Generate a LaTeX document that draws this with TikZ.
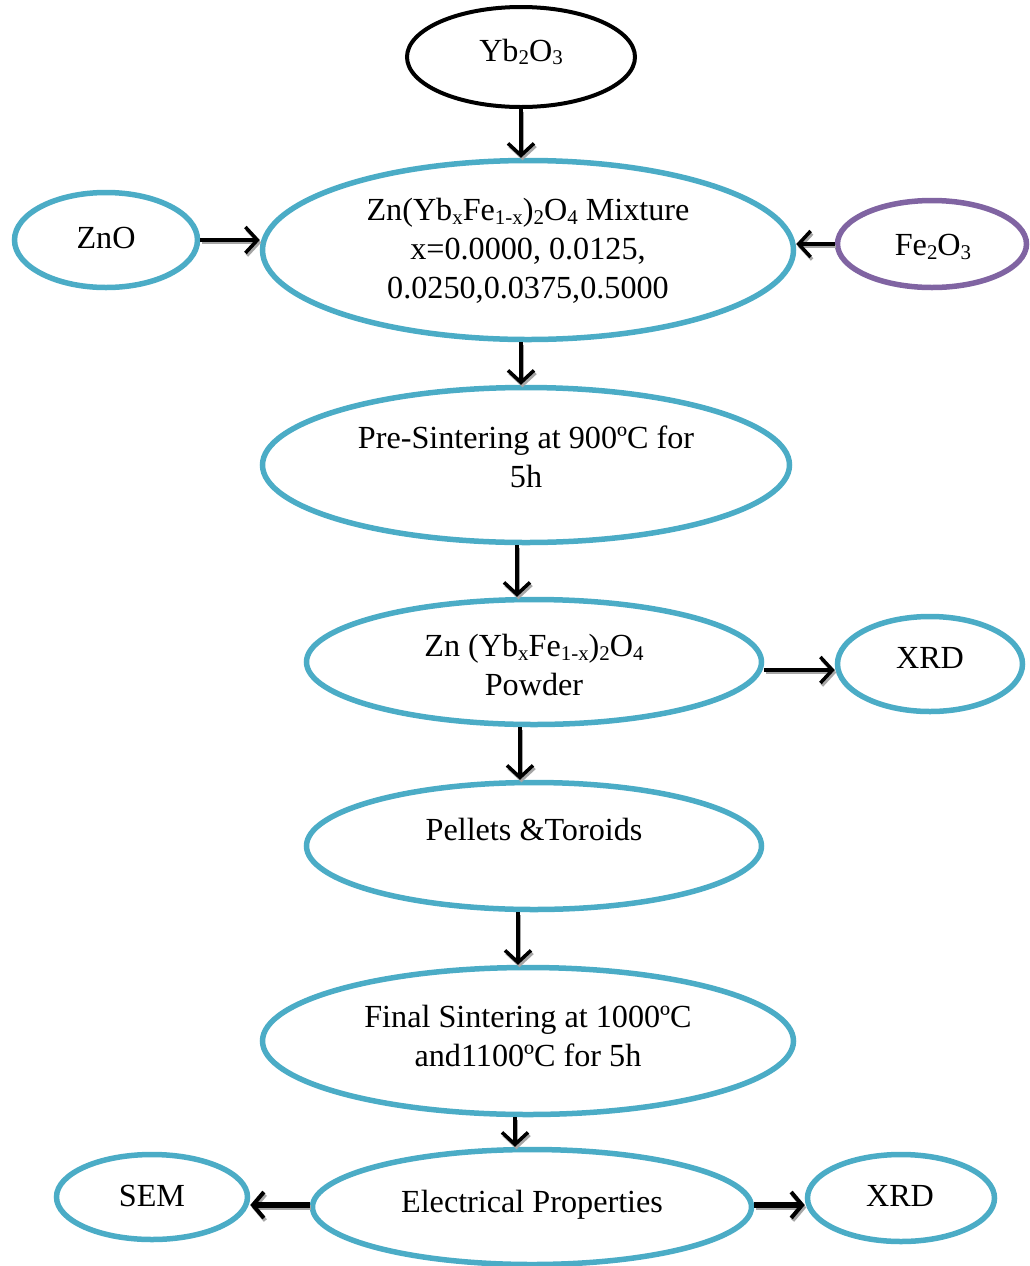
\documentclass[tikz,border=0pt]{standalone}
\usepackage{fontspec}
\setmainfont{Liberation Serif}
\usetikzlibrary{shapes.geometric,arrows.meta}
\definecolor{tealb}{HTML}{4BACC6}
\definecolor{purp}{HTML}{8064A2}
\newcommand\sbs[1]{\raisebox{-0.12em}{\fontsize{21}{21}\selectfont #1}}
\tikzset{
  ell/.style={ellipse, draw=tealb, line width=5.5bp, inner sep=0pt, fill=white},
  arr/.style={line width=3.5bp, -{Straight Barb[length=12bp,width=26bp,line width=3.5bp]}},
  shd/.style={arr, draw=black!35, transform canvas={xshift=1.5bp,yshift=-2.5bp}},
  thick arr/.style={line width=5.5bp, -{Straight Barb[length=11bp,width=26bp,line width=4bp]}},
  lbl/.style={align=center, font=\fontsize{32.3}{39}\selectfont, inner sep=0pt}
}
\newcommand\flow[2]{\draw[shd] #1 -- #2; \draw[arr] #1 -- #2;}
\newcommand\tflow[2]{\draw[shd,thick arr] #1 -- #2; \draw[thick arr] #1 -- #2;}
\begin{document}
\begin{tikzpicture}[x=1bp,y=-1bp]
\useasboundingbox (0,0) rectangle (1030,1266);
% ellipses
\node[ell, draw=black, line width=4bp, minimum width=228bp, minimum height=100bp] (yb) at (521,57) {};
\node[ell, minimum width=531bp, minimum height=179bp] (mix) at (528,250) {};
\node[ell, minimum width=183bp, minimum height=95bp] (zno) at (106,240) {};
\node[ell, draw=purp, minimum width=189bp, minimum height=87bp] (fe) at (932,244) {};
\node[ell, minimum width=527bp, minimum height=155bp] (pre) at (526,465) {};
\node[ell, minimum width=455bp, minimum height=125bp] (pow) at (534,662) {};
\node[ell, minimum width=185bp, minimum height=95bp] (xrda) at (930,664) {};
\node[ell, minimum width=455bp, minimum height=127bp] (pel) at (534,846) {};
\node[ell, minimum width=531bp, minimum height=147bp] (fin) at (528,1041) {};
\node[ell, minimum width=439bp, minimum height=115bp] (ele) at (532,1207) {};
\node[ell, minimum width=191bp, minimum height=85bp] (sem) at (152,1197) {};
\node[ell, minimum width=187bp, minimum height=87bp] (xrdb) at (901,1198) {};
% labels
\node[lbl] (tyb) at (521,52) {Yb\sbs{2}O\sbs{3}};
\node[lbl] (tmix) at (528,251) {Zn(Yb\sbs{x}Fe\sbs{1-x})\sbs{2}O\sbs{4} Mixture\\x=0.0000, 0.0125,\\0.0250,0.0375,0.5000};
\node[lbl] (tzno) at (106,238) {ZnO};
\node[lbl] (tfe) at (933,247) {Fe\sbs{2}O\sbs{3}};
\node[lbl] (tpre) at (526,457) {Pre-Sintering at 900ºC for\\5h};
\node[lbl] (tpow) at (534,665) {Zn (Yb\sbs{x}Fe\sbs{1-x})\sbs{2}O\sbs{4}\\Powder};
\node[lbl] (txrda) at (930,658) {XRD};
\node[lbl] (tpel) at (534,829) {Pellets \&Toroids};
\node[lbl] (tfin) at (528,1036) {Final Sintering at 1000ºC\\and1100ºC for 5h};
\node[lbl] (tele) at (532,1205) {Electrical Properties};
\node[lbl] (tsem) at (152,1196) {SEM};
\node[lbl] (txrdb) at (900,1196) {XRD};
% arrows
\flow{(yb.south)}{(yb.south |- mix.north)}
\flow{(zno.east)}{(zno.east -| mix.west)}
\flow{(fe.west)}{(fe.west -| mix.east)}
\flow{(mix.south -| 521,0)}{(pre.north -| 521,0)}
\flow{(pre.south -| 517,0)}{(pow.north -| 517,0)}
\flow{(pow.south -| 520,0)}{(pel.north -| 520,0)}
\flow{(pow.east |- 0,670)}{(xrda.west |- 0,670)}
\flow{(pel.south -| 518,0)}{(fin.north -| 518,0)}
\flow{(fin.south -| 515,0)}{(ele.north -| 515,0)}
\tflow{(ele.west |- 0,1205)}{(sem.east |- 0,1205)}
\tflow{(ele.east |- 0,1205)}{(xrdb.west |- 0,1205)}
\end{tikzpicture}
\end{document}
